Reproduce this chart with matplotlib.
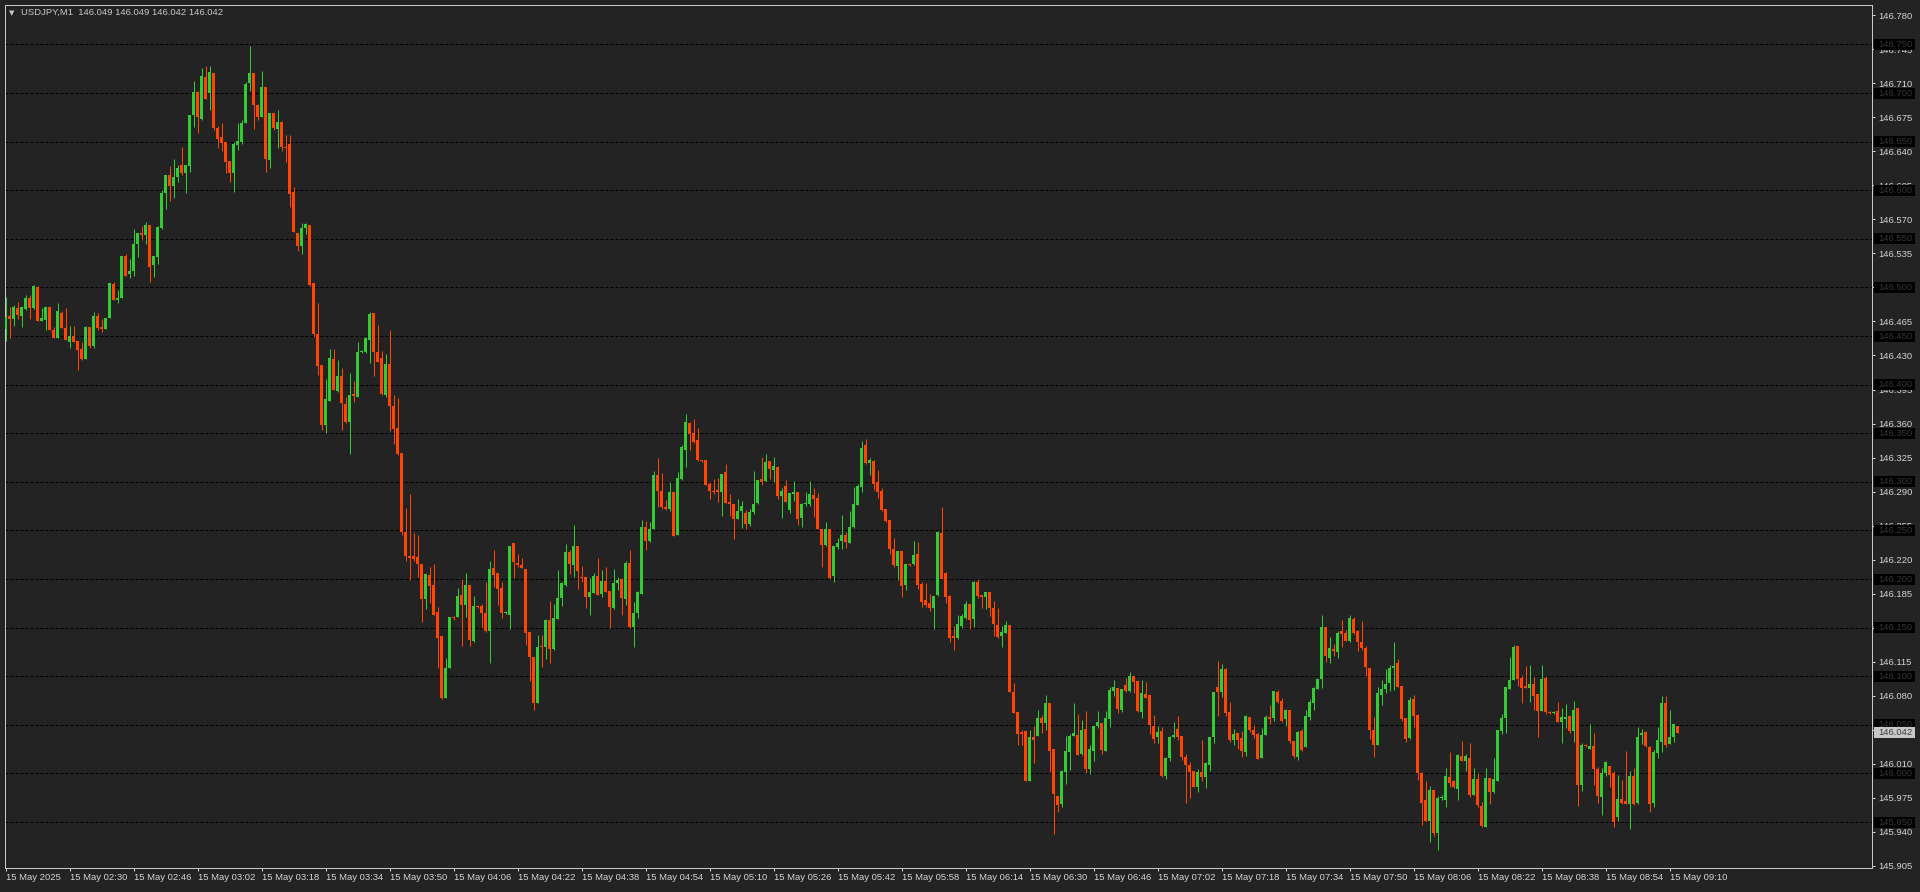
import numpy as np
import matplotlib.pyplot as plt
from matplotlib.patches import Rectangle
from matplotlib.transforms import blended_transform_factory

# USDJPY M1 candles, 15 May 2025 02:14 -> 09:12 (one per minute)
opens = [
    146.457, 146.471, 146.468, 146.479, 146.471, 146.478, 146.489, 146.479, 146.500, 146.466,
    146.467, 146.480, 146.456, 146.448, 146.474, 146.458, 146.444, 146.450, 146.445, 146.437,
    146.426, 146.459, 146.440, 146.471, 146.459, 146.457, 146.469, 146.504, 146.487, 146.489,
    146.532, 146.514, 146.517, 146.545, 146.556, 146.554, 146.564, 146.523, 146.531, 146.561,
    146.597, 146.616, 146.604, 146.614, 146.626, 146.618, 146.625, 146.677, 146.701, 146.673,
    146.717, 146.700, 146.721, 146.664, 146.655, 146.650, 146.630, 146.618, 146.647, 146.650,
    146.669, 146.710, 146.721, 146.688, 146.675, 146.706, 146.631, 146.679, 146.663, 146.670,
    146.644, 146.648, 146.598, 146.556, 146.543, 146.561, 146.564, 146.505, 146.452, 146.420,
    146.358, 146.383, 146.426, 146.393, 146.409, 146.380, 146.362, 146.390, 146.387, 146.434,
    146.434, 146.446, 146.474, 146.434, 146.427, 146.389, 146.421, 146.378, 146.355, 146.330,
    146.248, 146.224, 146.224, 146.223, 146.215, 146.179, 146.204, 146.194, 146.166, 146.141,
    146.078, 146.108, 146.161, 146.161, 146.184, 146.173, 146.194, 146.136, 146.172, 146.172,
    146.165, 146.147, 146.211, 146.206, 146.191, 146.165, 146.163, 146.237, 146.217, 146.214,
    146.210, 146.146, 146.120, 146.072, 146.131, 146.130, 146.158, 146.128, 146.159, 146.181,
    146.194, 146.228, 146.214, 146.234, 146.202, 146.202, 146.182, 146.186, 146.203, 146.185,
    146.198, 146.188, 146.170, 146.196, 146.200, 146.179, 146.217, 146.151, 146.165, 146.185,
    146.254, 146.239, 146.251, 146.307, 146.291, 146.274, 146.272, 146.290, 146.245, 146.303,
    146.333, 146.361, 146.350, 146.343, 146.322, 146.322, 146.298, 146.291, 146.292, 146.290,
    146.310, 146.279, 146.277, 146.262, 146.270, 146.268, 146.257, 146.269, 146.278, 146.303,
    146.301, 146.321, 146.312, 146.315, 146.285, 146.296, 146.271, 146.287, 146.290, 146.263,
    146.277, 146.277, 146.286, 146.283, 146.252, 146.235, 146.251, 146.203, 146.233, 146.239,
    146.245, 146.237, 146.254, 146.276, 146.295, 146.338, 146.319, 146.321, 146.300, 146.291,
    146.272, 146.261, 146.231, 146.213, 146.229, 146.194, 146.215, 146.215, 146.226, 146.195,
    146.178, 146.175, 146.170, 146.184, 146.247, 146.206, 146.183, 146.141, 146.139, 146.152,
    146.160, 146.174, 146.159, 146.197, 146.184, 146.182, 146.187, 146.170, 146.153, 146.141,
    146.145, 146.153, 146.084, 146.063, 146.043, 146.044, 145.992, 146.037, 146.039, 146.057,
    146.052, 146.072, 146.025, 145.977, 145.969, 146.001, 146.022, 146.039, 146.040, 146.020,
    146.046, 146.005, 146.023, 146.049, 146.052, 146.023, 146.056, 146.085, 146.088, 146.065,
    146.091, 146.085, 146.100, 146.095, 146.063, 146.082, 146.081, 146.049, 146.037, 146.044,
    145.997, 146.016, 146.038, 146.046, 146.039, 146.017, 146.009, 146.003, 145.986, 146.001,
    145.996, 146.009, 146.037, 146.089, 146.084, 146.107, 146.063, 146.034, 146.042, 146.036,
    146.022, 146.058, 146.045, 146.041, 146.016, 146.040, 146.058, 146.057, 146.084, 146.075,
    146.056, 146.065, 146.033, 146.017, 146.044, 146.027, 146.058, 146.073, 146.087, 146.097,
    146.151, 146.119, 146.128, 146.125, 146.147, 146.144, 146.136, 146.159, 146.147, 146.135,
    146.129, 146.109, 146.045, 146.029, 146.081, 146.087, 146.093, 146.109, 146.114, 146.090,
    146.057, 146.036, 146.077, 146.060, 146.000, 145.973, 145.951, 145.983, 145.939, 145.975,
    145.973, 145.996, 145.992, 145.984, 146.018, 146.013, 146.016, 145.978, 145.994, 145.967,
    145.945, 145.995, 145.981, 145.992, 146.044, 146.057, 146.087, 146.096, 146.131, 146.098,
    146.090, 146.088, 146.092, 146.082, 146.064, 146.098, 146.063, 146.062, 146.064, 146.053,
    146.056, 146.059, 146.044, 146.067, 145.988, 146.029, 146.025, 146.028, 146.005, 145.976,
    146.000, 146.008, 146.000, 145.955, 145.974, 145.972, 145.969, 145.997, 145.970, 146.040,
    146.043, 146.027, 145.970, 146.021, 146.032, 146.073, 146.030, 146.038, 146.049,
]
highs = [
    146.490, 146.480, 146.482, 146.485, 146.480, 146.492, 146.492, 146.503, 146.502, 146.479,
    146.480, 146.480, 146.459, 146.484, 146.476, 146.479, 146.460, 146.460, 146.445, 146.444,
    146.460, 146.459, 146.475, 146.474, 146.468, 146.469, 146.505, 146.506, 146.497, 146.532,
    146.534, 146.529, 146.560, 146.556, 146.563, 146.567, 146.564, 146.532, 146.563, 146.600,
    146.616, 146.625, 146.632, 146.626, 146.644, 146.626, 146.677, 146.712, 146.702, 146.726,
    146.728, 146.728, 146.721, 146.666, 146.669, 146.650, 146.630, 146.650, 146.669, 146.672,
    146.711, 146.748, 146.721, 146.689, 146.723, 146.706, 146.679, 146.679, 146.683, 146.671,
    146.657, 146.657, 146.603, 146.556, 146.566, 146.566, 146.564, 146.505, 146.484, 146.420,
    146.406, 146.437, 146.437, 146.425, 146.417, 146.387, 146.412, 146.404, 146.444, 146.436,
    146.449, 146.475, 146.474, 146.461, 146.435, 146.432, 146.456, 146.389, 146.386, 146.330,
    146.273, 146.287, 146.247, 146.245, 146.215, 146.205, 146.212, 146.215, 146.171, 146.141,
    146.119, 146.161, 146.162, 146.191, 146.200, 146.206, 146.194, 146.183, 146.173, 146.174,
    146.197, 146.219, 146.230, 146.206, 146.197, 146.167, 146.234, 146.237, 146.226, 146.222,
    146.210, 146.146, 146.120, 146.142, 146.142, 146.159, 146.177, 146.174, 146.209, 146.197,
    146.236, 146.230, 146.256, 146.234, 146.213, 146.202, 146.201, 146.206, 146.222, 146.209,
    146.212, 146.188, 146.210, 146.202, 146.201, 146.219, 146.230, 146.176, 146.188, 146.261,
    146.260, 146.259, 146.311, 146.325, 146.309, 146.281, 146.300, 146.290, 146.310, 146.338,
    146.370, 146.362, 146.365, 146.355, 146.323, 146.323, 146.300, 146.303, 146.304, 146.308,
    146.318, 146.288, 146.277, 146.282, 146.280, 146.271, 146.272, 146.311, 146.302, 146.326,
    146.329, 146.321, 146.326, 146.316, 146.294, 146.302, 146.289, 146.301, 146.290, 146.278,
    146.290, 146.301, 146.294, 146.289, 146.252, 146.259, 146.251, 146.234, 146.242, 146.266,
    146.248, 146.270, 146.295, 146.298, 146.342, 146.344, 146.325, 146.323, 146.312, 146.294,
    146.272, 146.261, 146.242, 146.229, 146.229, 146.215, 146.216, 146.239, 146.238, 146.197,
    146.196, 146.185, 146.183, 146.249, 146.274, 146.207, 146.184, 146.152, 146.163, 146.164,
    146.177, 146.174, 146.198, 146.200, 146.184, 146.187, 146.187, 146.177, 146.170, 146.152,
    146.157, 146.153, 146.093, 146.063, 146.045, 146.044, 146.045, 146.049, 146.065, 146.060,
    146.081, 146.072, 146.025, 145.977, 146.004, 146.039, 146.041, 146.072, 146.061, 146.055,
    146.064, 146.029, 146.049, 146.064, 146.052, 146.064, 146.089, 146.096, 146.088, 146.087,
    146.098, 146.104, 146.100, 146.095, 146.096, 146.094, 146.081, 146.060, 146.049, 146.048,
    146.017, 146.039, 146.053, 146.059, 146.039, 146.020, 146.012, 146.003, 146.005, 146.034,
    146.012, 146.038, 146.084, 146.116, 146.113, 146.108, 146.074, 146.046, 146.042, 146.044,
    146.060, 146.058, 146.050, 146.042, 146.047, 146.060, 146.070, 146.085, 146.086, 146.078,
    146.066, 146.065, 146.033, 146.044, 146.046, 146.065, 146.077, 146.089, 146.097, 146.163,
    146.151, 146.140, 146.133, 146.147, 146.158, 146.148, 146.163, 146.161, 146.148, 146.157,
    146.131, 146.109, 146.058, 146.089, 146.096, 146.107, 146.112, 146.135, 146.118, 146.090,
    146.057, 146.079, 146.081, 146.061, 146.002, 145.992, 145.987, 145.983, 145.977, 145.978,
    146.006, 146.022, 145.993, 146.020, 146.033, 146.020, 146.031, 146.006, 146.000, 145.971,
    146.006, 145.995, 146.016, 146.045, 146.061, 146.089, 146.120, 146.132, 146.131, 146.101,
    146.111, 146.112, 146.099, 146.082, 146.112, 146.100, 146.064, 146.064, 146.074, 146.067,
    146.071, 146.059, 146.075, 146.067, 146.031, 146.030, 146.051, 146.042, 146.007, 146.006,
    146.013, 146.008, 146.003, 145.998, 145.993, 146.023, 146.003, 146.006, 146.048, 146.046,
    146.044, 146.028, 146.024, 146.048, 146.080, 146.080, 146.065, 146.051, 146.049,
]
lows = [
    146.445, 146.448, 146.460, 146.468, 146.459, 146.477, 146.468, 146.478, 146.466, 146.466,
    146.456, 146.456, 146.448, 146.448, 146.458, 146.446, 146.438, 146.444, 146.415, 146.425,
    146.426, 146.438, 146.438, 146.456, 146.454, 146.457, 146.469, 146.487, 146.484, 146.489,
    146.512, 146.510, 146.512, 146.531, 146.549, 146.545, 146.506, 146.511, 146.524, 146.560,
    146.581, 146.589, 146.592, 146.608, 146.616, 146.597, 146.619, 146.665, 146.659, 146.672,
    146.694, 146.683, 146.662, 146.643, 146.640, 146.618, 146.608, 146.598, 146.641, 146.648,
    146.669, 146.702, 146.663, 146.672, 146.675, 146.619, 146.623, 146.662, 146.643, 146.640,
    146.629, 146.583, 146.557, 146.537, 146.534, 146.555, 146.501, 146.449, 146.410, 146.353,
    146.350, 146.383, 146.394, 146.392, 146.353, 146.361, 146.329, 146.382, 146.387, 146.433,
    146.433, 146.422, 146.409, 146.423, 146.389, 146.387, 146.352, 146.339, 146.328, 146.245,
    146.219, 146.199, 146.219, 146.202, 146.156, 146.169, 146.175, 146.163, 146.109, 146.077,
    146.078, 146.108, 146.158, 146.161, 146.131, 146.161, 146.131, 146.135, 146.170, 146.150,
    146.146, 146.114, 146.192, 146.173, 146.160, 146.164, 146.149, 146.201, 146.212, 146.211,
    146.132, 146.095, 146.065, 146.072, 146.110, 146.118, 146.114, 146.127, 146.159, 146.172,
    146.193, 146.205, 146.202, 146.190, 146.197, 146.170, 146.163, 146.186, 146.184, 146.182,
    146.187, 146.150, 146.169, 146.189, 146.163, 146.173, 146.150, 146.130, 146.160, 146.185,
    146.230, 146.238, 146.251, 146.274, 146.272, 146.271, 146.270, 146.244, 146.245, 146.302,
    146.315, 146.333, 146.340, 146.321, 146.320, 146.297, 146.282, 146.287, 146.279, 146.265,
    146.278, 146.265, 146.241, 146.262, 146.253, 146.252, 146.255, 146.267, 146.277, 146.297,
    146.300, 146.303, 146.300, 146.282, 146.263, 146.279, 146.268, 146.280, 146.256, 146.254,
    146.275, 146.275, 146.264, 146.251, 146.212, 146.234, 146.200, 146.197, 146.231, 146.231,
    146.232, 146.237, 146.253, 146.276, 146.290, 146.318, 146.307, 146.292, 146.283, 146.270,
    146.259, 146.226, 146.212, 146.199, 146.182, 146.189, 146.213, 146.214, 146.190, 146.171,
    146.171, 146.167, 146.149, 146.183, 146.200, 146.175, 146.135, 146.127, 146.138, 146.150,
    146.159, 146.149, 146.151, 146.181, 146.170, 146.169, 146.162, 146.141, 146.139, 146.130,
    146.144, 146.084, 146.062, 146.029, 146.029, 145.992, 145.992, 146.011, 146.039, 146.042,
    146.045, 146.001, 145.938, 145.960, 145.966, 145.989, 146.004, 146.039, 146.019, 146.019,
    146.000, 145.999, 146.013, 146.047, 146.020, 146.023, 146.048, 146.080, 146.062, 146.063,
    146.084, 146.084, 146.083, 146.063, 146.057, 146.078, 146.041, 146.031, 146.031, 145.996,
    145.994, 146.013, 146.036, 146.034, 146.014, 145.970, 145.975, 145.986, 145.981, 145.992,
    145.985, 146.003, 146.031, 146.059, 146.079, 146.059, 146.032, 146.029, 146.025, 146.017,
    146.018, 146.043, 146.036, 146.015, 146.016, 146.040, 146.051, 146.054, 146.072, 146.053,
    146.049, 146.031, 146.016, 146.014, 146.023, 146.027, 146.055, 146.065, 146.087, 146.088,
    146.115, 146.114, 146.121, 146.119, 146.130, 146.136, 146.135, 146.143, 146.126, 146.127,
    146.100, 146.035, 146.017, 146.029, 146.070, 146.083, 146.085, 146.086, 146.089, 146.054,
    146.032, 146.035, 146.048, 145.993, 145.947, 145.950, 145.929, 145.936, 145.921, 145.973,
    145.965, 145.986, 145.985, 145.973, 146.013, 146.003, 145.976, 145.978, 145.965, 145.945,
    145.945, 145.969, 145.980, 145.992, 146.041, 146.042, 146.087, 146.096, 146.090, 146.073,
    146.088, 146.074, 146.065, 146.037, 146.064, 146.061, 146.061, 146.061, 146.053, 146.031,
    146.047, 146.042, 146.032, 145.967, 145.982, 146.027, 146.025, 145.988, 145.970, 145.957,
    145.997, 145.986, 145.945, 145.951, 145.969, 145.969, 145.943, 145.968, 145.969, 146.030,
    146.027, 145.960, 145.965, 146.016, 146.022, 146.027, 146.030, 146.032, 146.042,
]
closes = [
    146.470, 146.468, 146.480, 146.472, 146.480, 146.489, 146.479, 146.501, 146.466, 146.469,
    146.480, 146.456, 146.448, 146.476, 146.458, 146.446, 146.450, 146.444, 146.436, 146.426,
    146.459, 146.440, 146.471, 146.458, 146.457, 146.469, 146.505, 146.487, 146.489, 146.532,
    146.512, 146.517, 146.545, 146.556, 146.554, 146.564, 146.521, 146.532, 146.562, 146.597,
    146.616, 146.604, 146.614, 146.623, 146.618, 146.626, 146.677, 146.701, 146.675, 146.718,
    146.694, 146.722, 146.664, 146.653, 146.649, 146.629, 146.618, 146.648, 146.651, 146.669,
    146.709, 146.721, 146.688, 146.675, 146.706, 146.632, 146.679, 146.664, 146.670, 146.644,
    146.643, 146.596, 146.557, 146.543, 146.561, 146.565, 146.503, 146.452, 146.419, 146.359,
    146.385, 146.427, 146.394, 146.409, 146.381, 146.362, 146.389, 146.388, 146.434, 146.435,
    146.448, 146.473, 146.434, 146.423, 146.390, 146.421, 146.378, 146.354, 146.329, 146.248,
    146.224, 146.222, 146.221, 146.215, 146.179, 146.205, 146.193, 146.163, 146.139, 146.078,
    146.109, 146.161, 146.160, 146.183, 146.173, 146.194, 146.137, 146.172, 146.171, 146.165,
    146.147, 146.210, 146.204, 146.190, 146.165, 146.166, 146.234, 146.218, 146.214, 146.211,
    146.145, 146.120, 146.073, 146.130, 146.130, 146.158, 146.128, 146.160, 146.181, 146.196,
    146.228, 146.215, 146.234, 146.208, 146.201, 146.182, 146.187, 146.203, 146.184, 146.198,
    146.187, 146.171, 146.196, 146.199, 146.180, 146.217, 146.151, 146.165, 146.187, 146.254,
    146.239, 146.251, 146.307, 146.291, 146.274, 146.272, 146.290, 146.244, 146.304, 146.336,
    146.362, 146.349, 146.341, 146.322, 146.321, 146.297, 146.291, 146.290, 146.290, 146.308,
    146.278, 146.277, 146.262, 146.270, 146.275, 146.257, 146.269, 146.277, 146.302, 146.300,
    146.320, 146.313, 146.316, 146.285, 146.291, 146.279, 146.289, 146.290, 146.262, 146.277,
    146.278, 146.287, 146.282, 146.251, 146.235, 146.251, 146.201, 146.234, 146.237, 146.245,
    146.238, 146.254, 146.277, 146.296, 146.335, 146.319, 146.323, 146.298, 146.290, 146.271,
    146.260, 146.231, 146.214, 146.229, 146.193, 146.215, 146.214, 146.225, 146.194, 146.176,
    146.173, 146.170, 146.183, 146.248, 146.200, 146.182, 146.139, 146.139, 146.154, 146.162,
    146.174, 146.158, 146.197, 146.183, 146.182, 146.187, 146.170, 146.154, 146.140, 146.146,
    146.153, 146.084, 146.062, 146.041, 146.041, 145.992, 146.038, 146.034, 146.057, 146.052,
    146.072, 146.023, 145.979, 145.968, 146.003, 146.023, 146.039, 146.042, 146.019, 146.045,
    146.005, 146.025, 146.049, 146.053, 146.024, 146.057, 146.086, 146.089, 146.066, 146.087,
    146.085, 146.100, 146.094, 146.064, 146.083, 146.078, 146.050, 146.035, 146.043, 145.997,
    146.016, 146.038, 146.040, 146.037, 146.017, 146.009, 146.001, 145.986, 146.001, 145.996,
    146.011, 146.038, 146.084, 146.084, 146.107, 146.062, 146.034, 146.041, 146.034, 146.023,
    146.059, 146.045, 146.040, 146.015, 146.040, 146.058, 146.056, 146.085, 146.074, 146.054,
    146.065, 146.033, 146.018, 146.043, 146.024, 146.059, 146.074, 146.088, 146.097, 146.151,
    146.121, 146.129, 146.126, 146.144, 146.143, 146.136, 146.160, 146.145, 146.135, 146.129,
    146.110, 146.045, 146.029, 146.083, 146.087, 146.092, 146.109, 146.111, 146.089, 146.056,
    146.035, 146.076, 146.059, 146.000, 145.970, 145.951, 145.983, 145.939, 145.975, 145.976,
    145.997, 145.990, 145.986, 146.019, 146.013, 146.018, 145.978, 145.994, 145.968, 145.946,
    145.995, 145.981, 145.994, 146.045, 146.057, 146.089, 146.096, 146.130, 146.097, 146.088,
    146.088, 146.092, 146.080, 146.064, 146.097, 146.063, 146.062, 146.063, 146.053, 146.058,
    146.058, 146.044, 146.065, 145.988, 146.029, 146.028, 146.028, 146.005, 145.977, 146.000,
    146.012, 145.998, 145.950, 145.974, 145.970, 145.969, 145.997, 145.969, 146.038, 146.042,
    146.028, 145.969, 146.022, 146.034, 146.073, 146.029, 146.038, 146.051, 146.042,
]

# time axis: a label every 16 candles
xtick_labels = ['15 May 2025', '15 May 02:30', '15 May 02:46', '15 May 03:02', '15 May 03:18',
                '15 May 03:34', '15 May 03:50', '15 May 04:06', '15 May 04:22', '15 May 04:38',
                '15 May 04:54', '15 May 05:10', '15 May 05:26', '15 May 05:42', '15 May 05:58',
                '15 May 06:14', '15 May 06:30', '15 May 06:46', '15 May 07:02', '15 May 07:18',
                '15 May 07:34', '15 May 07:50', '15 May 08:06', '15 May 08:22', '15 May 08:38',
                '15 May 08:54', '15 May 09:10']
ytick_vals = [146.780, 146.745, 146.710, 146.675, 146.640, 146.605, 146.570, 146.535, 146.500,
              146.465, 146.430, 146.395, 146.360, 146.325, 146.290, 146.255, 146.220, 146.185,
              146.150, 146.115, 146.080, 146.045, 146.010, 145.975, 145.940, 145.905]
grid_levels = [146.750, 146.700, 146.650, 146.600, 146.550, 146.500, 146.450, 146.400, 146.350,
               146.300, 146.250, 146.200, 146.150, 146.100, 146.050, 146.000, 145.950]
last_price = 146.042
header = 'USDJPY,M1  146.049 146.049 146.042 146.042'

bg = '#232323'
green = '#32cd32'
red = '#ff4500'
txt = '#d0d4d8'
px = 0.72  # one pixel in points at dpi 100

plt.rcParams['font.family'] = ['Liberation Sans', 'DejaVu Sans']

W, H = 1920, 892
fig = plt.figure(figsize=(W / 100, H / 100), dpi=100, facecolor=bg)
ax = fig.add_axes([4.5 / W, (H - 868) / H, (1872 - 4.5) / W, (868 - 4.5) / H], facecolor=bg)

o = np.array(opens); h = np.array(highs); l = np.array(lows); c = np.array(closes)
x = np.arange(len(o))
col = np.where(c >= o, green, red)

for lv in grid_levels:
    ax.axhline(lv, color='black', lw=px, ls=(0, (3, 2)), zorder=1)

ax.vlines(x, l, h, colors=col, linewidth=px, zorder=3)
body = np.maximum(np.abs(c - o), 0.0008)
ax.bar(x, body, bottom=np.minimum(o, c), width=0.75, color=col, linewidth=0, zorder=4)

ax.set_xlim(-0.25, -0.25 + (1872 - 4.5) / 4)
ax.set_ylim(146.780 - (868 - 15.3) / 972, 146.780 + (15.3 - 4.5) / 972)

for s in ax.spines.values():
    s.set_color('#c8c8c8')
    s.set_linewidth(px)

ax.yaxis.tick_right()
ax.set_yticks(ytick_vals)
ax.set_yticklabels([f'{v:.3f}' for v in ytick_vals])
ax.tick_params(axis='y', colors=txt, length=3 * px, width=px, pad=3 * px, labelsize=6.8)

ax.set_xticks(np.arange(len(xtick_labels)) * 16)
ax.set_xticklabels(xtick_labels, ha='left')
ax.tick_params(axis='x', colors=txt, length=3 * px, width=px, pad=1.5, labelsize=6.8)
for lab in ax.get_xticklabels():
    lab.set_color(txt)

# price-level boxes on the right scale
tr = blended_transform_factory(fig.transFigure, ax.transData)
bh = 11 / 972
for lv in grid_levels:
    fig.add_artist(Rectangle((1874 / W, lv - bh / 2), 41 / W, bh, transform=tr,
                             facecolor='black', edgecolor='none', zorder=1))
    fig.text(1878 / W, lv, f'{lv:.3f}', transform=tr, color='#363636', fontsize=6.8,
             va='center', ha='left', zorder=3)
fig.add_artist(Rectangle((1874 / W, last_price - bh / 2), 41 / W, bh, transform=tr,
                         facecolor='#c8c8c8', edgecolor='none', zorder=2))
fig.text(1878 / W, last_price, f'{last_price:.3f}', transform=tr, color='#404040',
         fontsize=6.8, va='center', ha='left', zorder=4)

# header
fig.text(12 / W, 1 - 12.7 / H, '\u25bc', color='#c8c8c8', fontsize=5, va='center', ha='center',
         family='DejaVu Sans')
fig.text(20.7 / W, 1 - 12.7 / H, header, color='#c8c8c8', fontsize=6.8, va='center', ha='left')

fig.savefig('out.png', dpi=100, facecolor=bg)
